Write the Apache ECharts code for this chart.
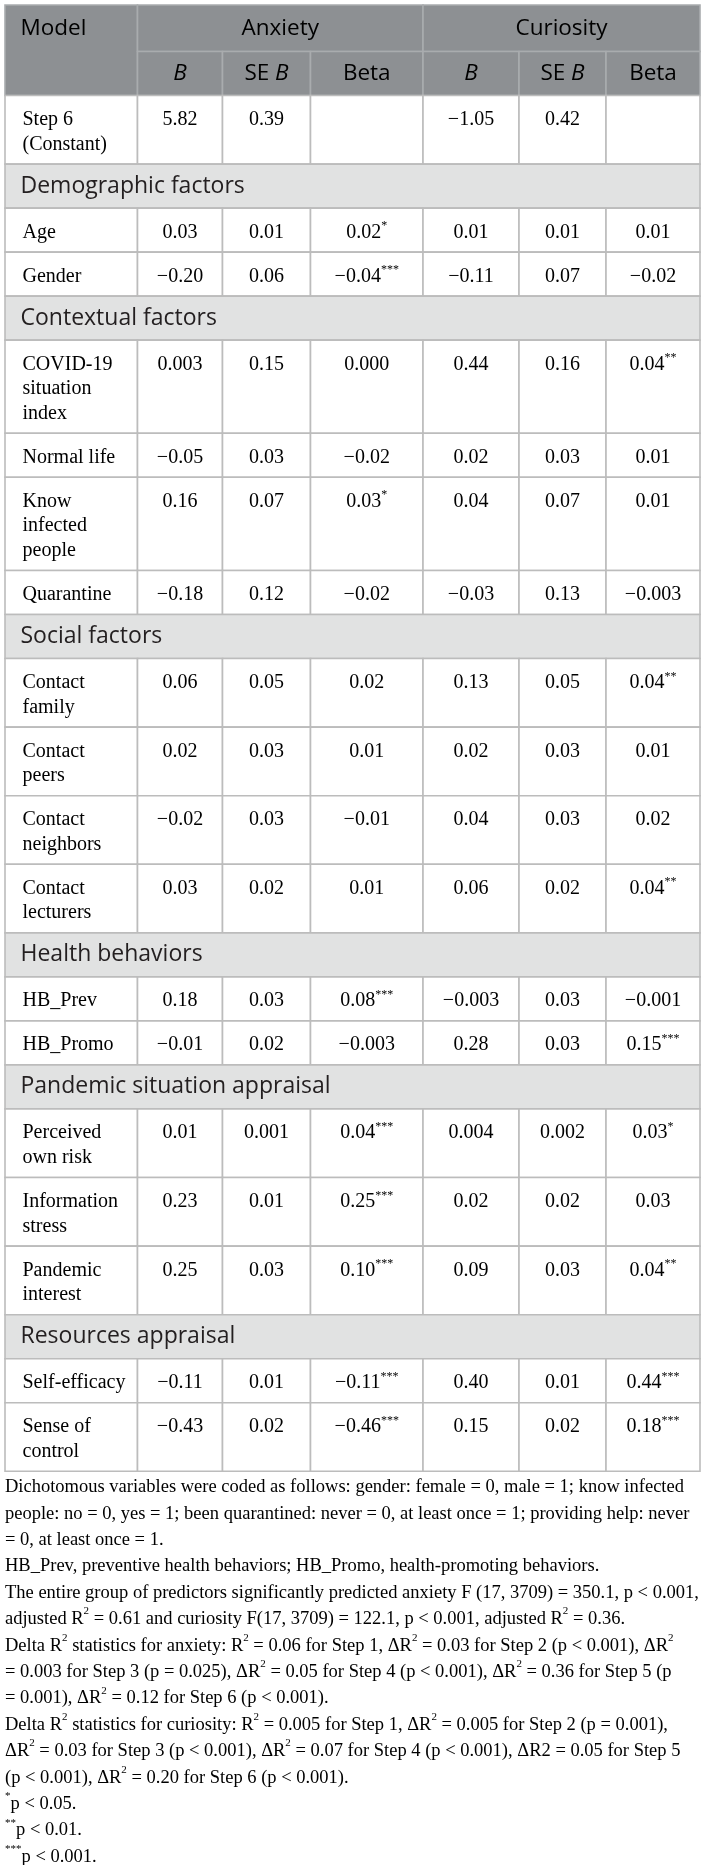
<!DOCTYPE html>
<html>
<head>
<meta charset="utf-8">
<script src="https://cdn.jsdelivr.net/npm/echarts@6/dist/echarts.min.js"></script>
<style>
	html, body { margin: 0; padding: 0; background: #fff; }
	#table { width: 702px; height: 1865px; }
</style>
</head>
<body>
<div id="table"></div>
<script>
// 表格数据
const header_top = ['Model', 'Anxiety', 'Curiosity'];
const header_sub = ['{i|B}', '{n|SE }{i|B}', '{n|Beta}', '{i|B}', '{n|SE }{i|B}', '{n|Beta}'];
const group_names = ['Demographic factors', 'Contextual factors', 'Social factors', 'Health behaviors', 'Pandemic situation appraisal', 'Resources appraisal'];
const row_labels = ['Step 6\n(Constant)', 'Age', 'Gender', 'COVID-19\nsituation\nindex', 'Normal life', 'Know\ninfected\npeople', 'Quarantine',
	'Contact\nfamily', 'Contact\npeers', 'Contact\nneighbors', 'Contact\nlecturers', 'HB_Prev', 'HB_Promo',
	'Perceived\nown risk', 'Information\nstress', 'Pandemic\ninterest', 'Self-efficacy', 'Sense of\ncontrol'];
const row_groups = [-1, 0, 0, 1, 1, 1, 1, 2, 2, 2, 2, 3, 3, 4, 4, 4, 5, 5];
const anxiety_b = ['5.82', '0.03', '−0.20', '0.003', '−0.05', '0.16', '−0.18', '0.06', '0.02', '−0.02', '0.03', '0.18', '−0.01', '0.01', '0.23', '0.25', '−0.11', '−0.43'];
const anxiety_se = ['0.39', '0.01', '0.06', '0.15', '0.03', '0.07', '0.12', '0.05', '0.03', '0.03', '0.02', '0.03', '0.02', '0.001', '0.01', '0.03', '0.01', '0.02'];
const anxiety_beta = ['', '0.02*', '−0.04***', '0.000', '−0.02', '0.03*', '−0.02', '0.02', '0.01', '−0.01', '0.01', '0.08***', '−0.003', '0.04***', '0.25***', '0.10***', '−0.11***', '−0.46***'];
const curiosity_b = ['−1.05', '0.01', '−0.11', '0.44', '0.02', '0.04', '−0.03', '0.13', '0.02', '0.04', '0.06', '−0.003', '0.28', '0.004', '0.02', '0.09', '0.40', '0.15'];
const curiosity_se = ['0.42', '0.01', '0.07', '0.16', '0.03', '0.07', '0.13', '0.05', '0.03', '0.03', '0.02', '0.03', '0.03', '0.002', '0.02', '0.03', '0.01', '0.02'];
const curiosity_beta = ['', '0.01', '−0.02', '0.04**', '0.01', '0.01', '−0.003', '0.04**', '0.01', '0.02', '0.04**', '−0.001', '0.15***', '0.03*', '0.03', '0.04**', '0.44***', '0.18***'];
const notes = [
	'Dichotomous variables were coded as follows: gender: female = 0, male = 1; know infected',
	'people: no = 0, yes = 1; been quarantined: never = 0, at least once = 1; providing help: never',
	'= 0, at least once = 1.',
	'HB_Prev, preventive health behaviors; HB_Promo, health-promoting behaviors.',
	'The entire group of predictors significantly predicted anxiety F (17, 3709) = 350.1, p < 0.001,',
	'adjusted R^2 = 0.61 and curiosity F(17, 3709) = 122.1, p < 0.001, adjusted R^2 = 0.36.',
	'Delta R^2 statistics for anxiety: R^2 = 0.06 for Step 1, ΔR^2 = 0.03 for Step 2 (p < 0.001), ΔR^2',
	'= 0.003 for Step 3 (p = 0.025), ΔR^2 = 0.05 for Step 4 (p < 0.001), ΔR^2 = 0.36 for Step 5 (p',
	'= 0.001), ΔR^2 = 0.12 for Step 6 (p < 0.001).',
	'Delta R^2 statistics for curiosity: R^2 = 0.005 for Step 1, ΔR^2 = 0.005 for Step 2 (p = 0.001),',
	'ΔR^2 = 0.03 for Step 3 (p < 0.001), ΔR^2 = 0.07 for Step 4 (p < 0.001), ΔR2 = 0.05 for Step 5',
	'(p < 0.001), ΔR^2 = 0.20 for Step 6 (p < 0.001).',
	'^*p < 0.05.',
	'^**p < 0.01.',
	'^***p < 0.001.',
];

// 版式
const col_edges = [5, 137.5, 222.5, 310.5, 423, 519, 606, 700];
const table_top = 5;
const head_h = [46.5, 44];
const row_h = 44;
const line_h = 24.6;
const note_h = 26.4;
const serif = 'Liberation Serif';
const sans = 'Open Sans';

const rich_serif = {
	n: { fontFamily: serif, fontSize: 20, lineHeight: line_h, color: '#231f20' },
	s: { fontFamily: serif, fontSize: 12, lineHeight: 12, verticalAlign: 'top', color: '#231f20' },
};
const rich_head = {
	n: { fontFamily: sans, fontSize: 22.5, lineHeight: 30, color: '#fff' },
	i: { fontFamily: sans, fontSize: 22.5, lineHeight: 30, fontStyle: 'italic', color: '#fff' },
};
const rich_note = {
	n: { fontFamily: serif, fontSize: 18.5, lineHeight: note_h, color: '#231f20' },
	s: { fontFamily: serif, fontSize: 11, lineHeight: 13, verticalAlign: 'top', color: '#231f20' },
};

// 数值后的星号做上标
function star_text(v) {
	let m = v.match(/^(.*?)(\**)$/);
	let out = `{n|${m[1]}}`;
	if (m[2]) out += `{s|${m[2]}}`;
	return out;
}
// 注释里 ^ 后面的字符做上标
function note_text(v) {
	return v.split(/(\^[0-9*]+)/).filter((e) => e !== '').map((e) => (e[0] === '^' ? `{s|${e.slice(1)}}` : `{n|${e}}`)).join('');
}

let cells = [];
let y = table_top;
// 表头
cells.push({ box: [col_edges[0], y, col_edges[1], y + head_h[0] + head_h[1]], kind: 'head', text: `{n|${header_top[0]}}`, align: 'left', mid: y + head_h[0] / 2 });
cells.push({ box: [col_edges[1], y, col_edges[4], y + head_h[0]], kind: 'head', text: `{n|${header_top[1]}}`, align: 'center', mid: y + head_h[0] / 2 });
cells.push({ box: [col_edges[4], y, col_edges[7], y + head_h[0]], kind: 'head', text: `{n|${header_top[2]}}`, align: 'center', mid: y + head_h[0] / 2 });
y += head_h[0];
header_sub.forEach((e, i) => {
	cells.push({ box: [col_edges[i + 1], y, col_edges[i + 2], y + head_h[1]], kind: 'head', text: e, align: 'center', mid: y + head_h[1] / 2 });
});
y += head_h[1];
// 分组和数据行
let last_group = -1;
row_labels.forEach((label, r) => {
	if (row_groups[r] !== last_group) {
		last_group = row_groups[r];
		cells.push({ box: [col_edges[0], y, col_edges[7], y + row_h], kind: 'group', text: group_names[last_group], align: 'left', mid: y + row_h / 2 });
		y += row_h;
	}
	let lines = label.split('\n').length;
	let h = row_h + (lines - 1) * line_h;
	let values = [anxiety_b[r], anxiety_se[r], anxiety_beta[r], curiosity_b[r], curiosity_se[r], curiosity_beta[r]];
	cells.push({ box: [col_edges[0], y, col_edges[1], y + h], kind: 'body', text: `{n|${label}}`, align: 'left', top: y + 12 });
	values.forEach((v, i) => {
		cells.push({ box: [col_edges[i + 1], y, col_edges[i + 2], y + h], kind: 'body', text: v ? star_text(v) : '', align: 'center', top: y + 12 });
	});
	y += h;
});
const table_bottom = y;

const fill_map = { head: '#8d9093', group: '#e1e2e2', body: '#fff' };
const stroke_map = { head: '#a9acae', group: '#bcbcbc', body: '#bcbcbc' };

function render_cell(params, api) {
	let c = cells[params.dataIndex];
	let p0 = api.coord([api.value(0), api.value(1)]);
	let p1 = api.coord([api.value(2), api.value(3)]);
	let children = [
		{
			type: 'rect',
			shape: { x: p0[0], y: p0[1], width: p1[0] - p0[0], height: p1[1] - p0[1] },
			style: { fill: fill_map[c.kind], stroke: stroke_map[c.kind], lineWidth: 1.6 },
		},
	];
	if (c.text) {
		let tx = c.align === 'left' ? p0[0] + (c.kind === 'body' ? 17.5 : 15.5) : (p0[0] + p1[0]) / 2;
		let style;
		if (c.kind === 'body') {
			style = { text: c.text, rich: rich_serif, align: c.align, verticalAlign: 'top', x: tx, y: api.coord([0, c.top])[1] };
		} else if (c.kind === 'head') {
			style = { text: c.text, rich: rich_head, align: c.align, verticalAlign: 'middle', x: tx, y: api.coord([0, c.mid])[1] };
		} else {
			style = { text: c.text, fontFamily: sans, fontSize: 23, fill: '#231f20', align: 'left', verticalAlign: 'middle', x: tx, y: api.coord([0, c.mid])[1] };
		}
		children.push({ type: 'text', style: style });
	}
	return { type: 'group', children: children };
}

function render_note(params, api) {
	let p = api.coord([api.value(0), api.value(1)]);
	return {
		type: 'text',
		style: { text: note_text(notes[params.dataIndex]), rich: rich_note, x: p[0], y: p[1], align: 'left', verticalAlign: 'middle' },
	};
}

let chart = echarts.init(document.getElementById('table'), null, { renderer: 'canvas' });
chart.setOption({
	animation: false,
	backgroundColor: '#fff',
	grid: { left: 0, right: 0, top: 0, bottom: 0 },
	xAxis: { type: 'value', min: 0, max: 702, show: false },
	yAxis: { type: 'value', min: 0, max: 1865, inverse: true, show: false },
	series: [
		{
			type: 'custom',
			silent: true,
			renderItem: render_cell,
			data: cells.map((c) => c.box),
		},
		{
			type: 'custom',
			silent: true,
			renderItem: render_note,
			data: notes.map((e, i) => [5, table_bottom + 16 + i * note_h]),
		},
	],
});
</script>
</body>
</html>
